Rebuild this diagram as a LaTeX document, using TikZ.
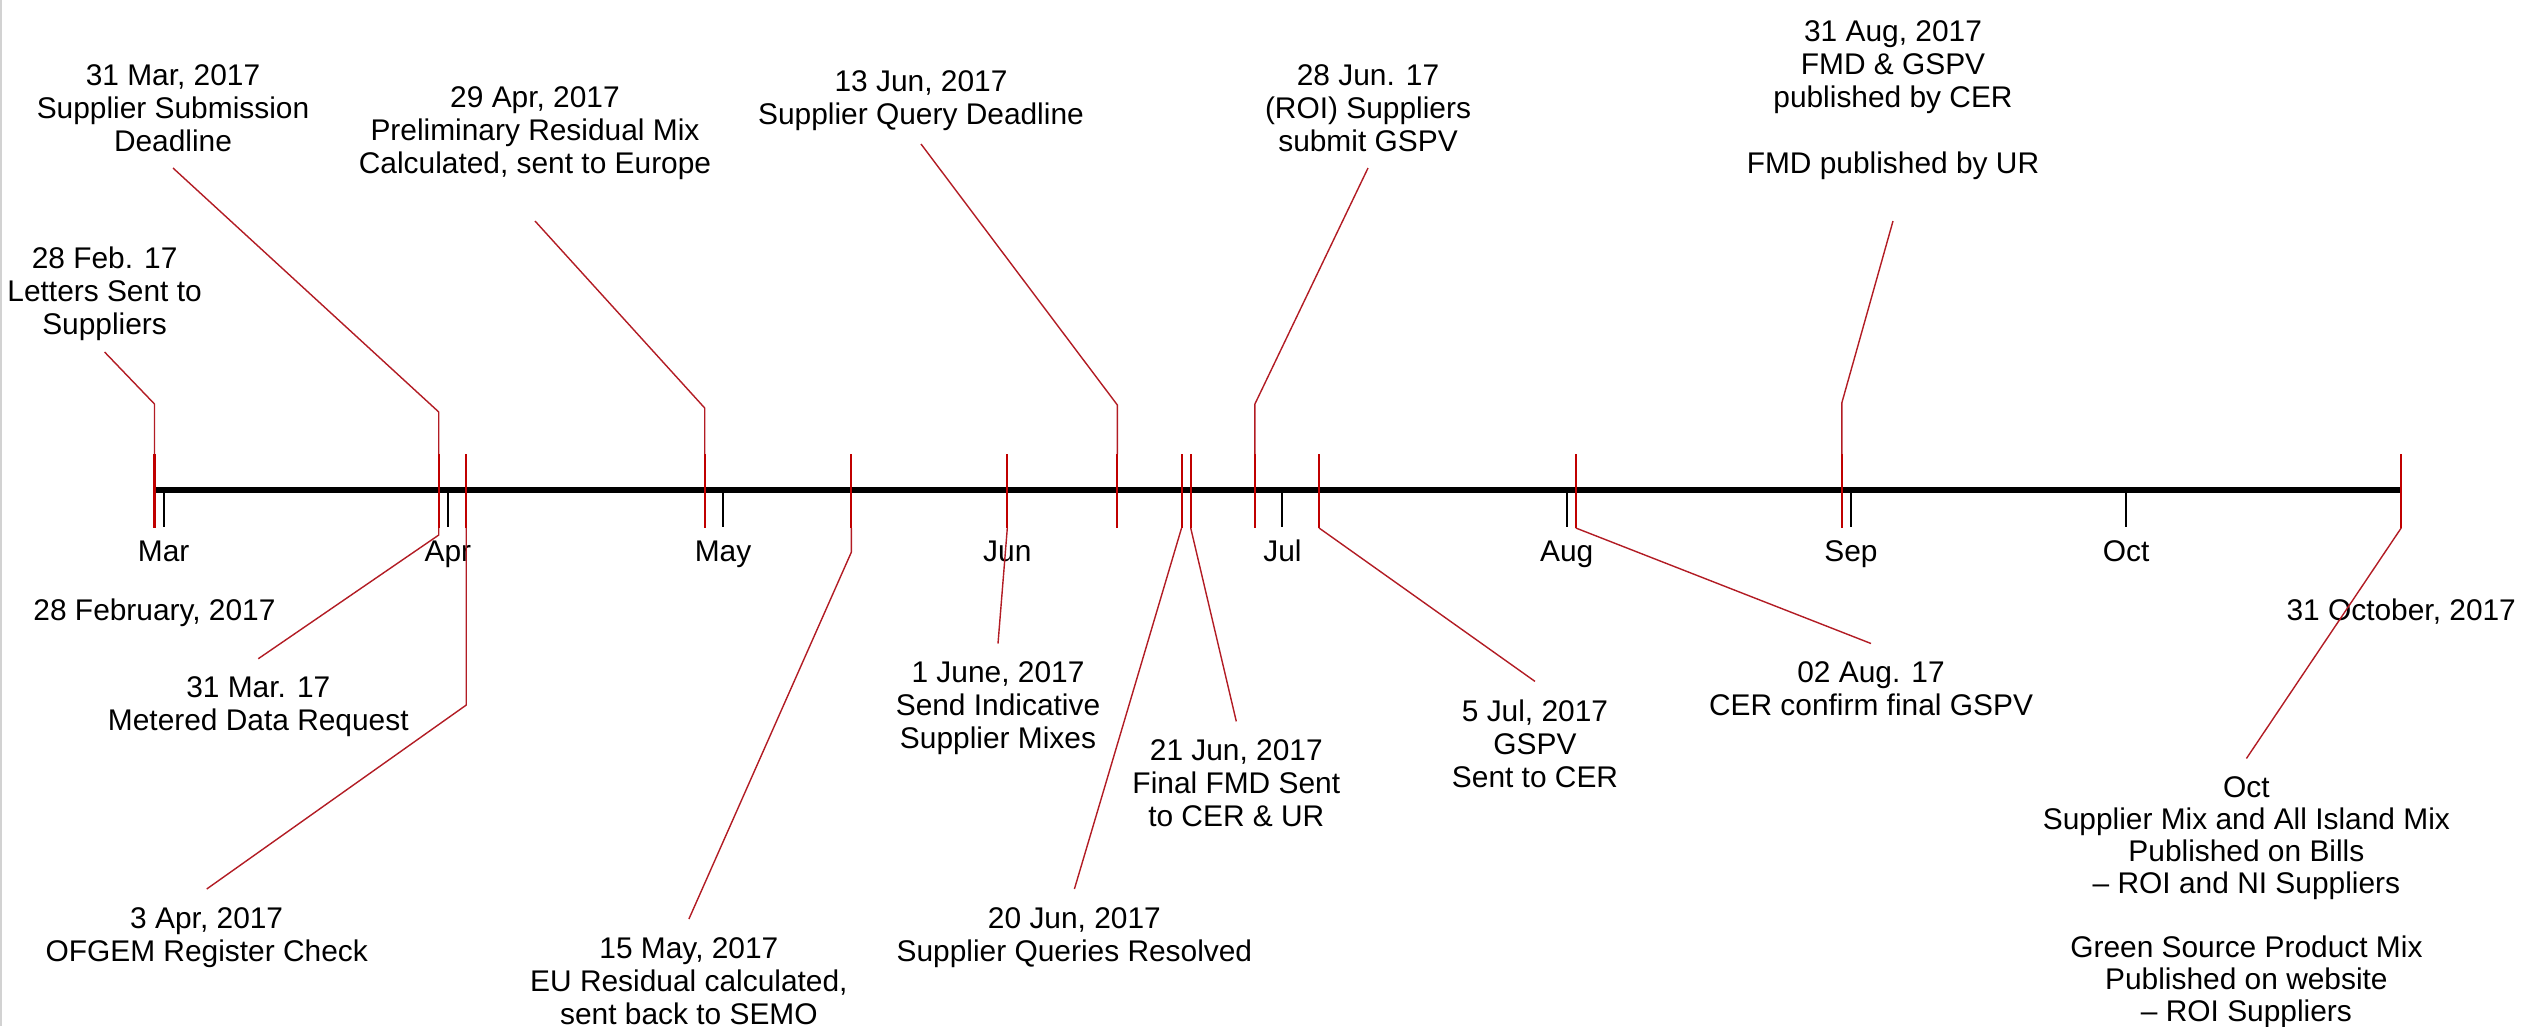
\documentclass[tikz,border=0pt]{standalone}
\usepackage{fontspec}
\setmainfont{Liberation Sans}
\usetikzlibrary{positioning}
\definecolor{tickred}{RGB}{192,0,0}
\definecolor{leadred}{RGB}{178,28,36}

\begin{document}
\begin{tikzpicture}[x=0.01cm, y=-0.01cm, font=\fontsize{8.5}{9.4}\selectfont,
	evt/.style = { align=center, inner xsep=0pt, inner ysep=5pt },
	month/.style = { anchor=base, inner sep=0pt },
	axisline/.style = { line width=1.8pt, black },
	monthtick/.style = { line width=0.6pt, black },
	redtick/.style = { line width=0.6pt, tickred },
	lead/.style = { line width=0.4pt, leadred } ]

  \useasboundingbox (0,0) rectangle (2524,1026);
  \draw [gray!35, line width=0.8pt] (1,0) -- (1,1026);

  \foreach \tk/\dd in {d0228/0, d0331/31, d0403/34, d0429/60, d0515/76,
	d0601/93, d0613/105, d0620/112, d0621/113, d0628/120, d0705/127,
	d0802/155, d0831/184, d1031/245}
  {
    \coordinate (\tk) at ({154.5+9.17*\dd},490);
    \coordinate (\tk up) at ({154.5+9.17*\dd},454);
    \coordinate (\tk dn) at ({154.5+9.17*\dd},528);
  }

  \foreach \mo/\dd in {Mar/1, Apr/32, May/62, Jun/93, Jul/123, Aug/154,
	Sep/185, Oct/215}
  {
    \draw [monthtick] ({154.5+9.17*\dd},490) -- ++(0,37);
    \node [name=m\mo, month] at ({154.5+9.17*\dd},561.7) {\mo};
  }

  \draw [axisline] (d0228) -- (d1031);

  \foreach \tk in {d0228, d0331, d0403, d0429, d0515, d0601, d0613, d0620,
	d0621, d0628, d0705, d0802, d0831, d1031}
    \draw [redtick] (\tk up) -- (\tk dn);

  \node [name=start, month] at (154.5,620) {28 February, 2017};
  \node [name=end, month] at (2401.2,620) {31 October, 2017};

  \node [name=letters, evt, anchor=south, inner ysep=3pt] at (104.6,352)
	{28 Feb. 17\\Letters Sent to\\Suppliers};
  \node [name=subm, evt, anchor=south, inner ysep=4.5pt] at (173,168)
	{31 Mar, 2017\\Supplier Submission\\Deadline};
  \node [name=prelim, evt, anchor=south, inner ysep=11.5pt] at (535,221)
	{29 Apr, 2017\\Preliminary Residual Mix\\Calculated, sent to Europe};
  \node [name=query, evt, anchor=south, inner ysep=3.5pt] at (921,144)
	{13 Jun, 2017\\Supplier Query Deadline};
  \node [name=roigspv, evt, anchor=south, inner ysep=4.5pt] at (1368,168)
	{28 Jun. 17\\(ROI) Suppliers\\submit GSPV};
  \node [name=publ, evt, anchor=south, inner ysep=11.5pt] at (1893,221)
	{31 Aug, 2017\\FMD \& GSPV\\published by CER\\[\baselineskip]FMD published by UR};

  \node [name=metered, evt, anchor=north] at (258.3,658.7)
	{31 Mar. 17\\Metered Data Request};
  \node [name=ofgem, evt, anchor=north] at (206.7,889)
	{3 Apr, 2017\\OFGEM Register Check};
  \node [name=euresid, evt, anchor=north] at (688.9,919)
	{15 May, 2017\\EU Residual calculated,\\sent back to SEMO};
  \node [name=indic, evt, anchor=north] at (998,643.5)
	{1 June, 2017\\Send Indicative\\Supplier Mixes};
  \node [name=resolved, evt, anchor=north] at (1074.4,889)
	{20 Jun, 2017\\Supplier Queries Resolved};
  \node [name=finalfmd, evt, anchor=north] at (1236.3,721.4)
	{21 Jun, 2017\\Final FMD Sent\\to CER \& UR};
  \node [name=gspvcer, evt, anchor=north] at (1535,681.4)
	{5 Jul, 2017\\GSPV\\Sent to CER};
  \node [name=confirm, evt, anchor=north] at (1871,643.5)
	{02 Aug. 17\\CER confirm final GSPV};
  \node [name=bills, evt, anchor=north, font=\fontsize{8.5}{9.1}\selectfont]
	at (2246.4,758.5)
	{Oct\\Supplier Mix and All Island Mix\\Published on Bills\\– ROI and NI Suppliers\\[\baselineskip]Green Source Product Mix\\Published on website\\– ROI Suppliers};

  \foreach \ev/\tk/\yb in {letters/d0228/404, subm/d0331/412, prelim/d0429/408,
	query/d0613/405, roigspv/d0628/404, publ/d0831/403}
    \draw [lead] (\ev.south) -- (\tk up |- 0,\yb) -- (\tk up);

  \foreach \ev/\tk/\yb in {metered/d0331/535, ofgem/d0403/705, euresid/d0515/552,
	indic/d0601/528, resolved/d0620/528, finalfmd/d0621/528, gspvcer/d0705/528,
	confirm/d0802/528, bills/d1031/528}
    \draw [lead] (\tk dn) -- (\tk dn |- 0,\yb) -- (\ev.north);
\end{tikzpicture}
\end{document}
